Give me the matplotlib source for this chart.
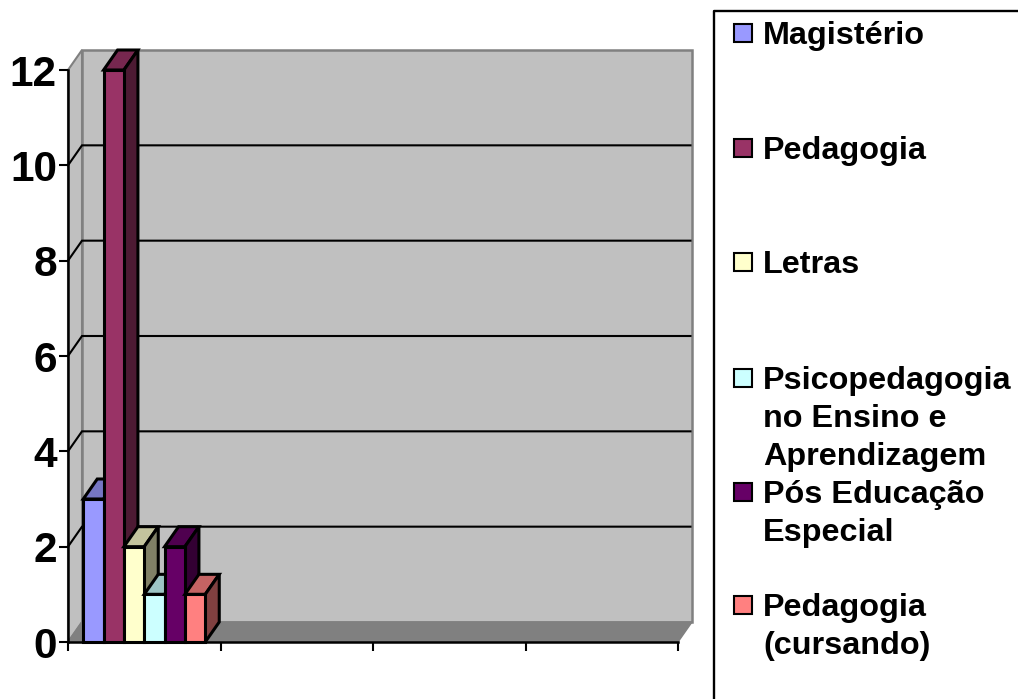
import matplotlib
matplotlib.use("Agg")
import matplotlib.pyplot as plt
from matplotlib.colors import to_rgb
from matplotlib.patches import Polygon, Rectangle

series = ["Magistério", "Pedagogia", "Letras",
          "Psicopedagogia\nno Ensino e\nAprendizagem",
          "Pós Educação\nEspecial", "Pedagogia\n(cursando)"]
values = [3, 12, 2, 1, 2, 1]
colors = ["#9999FF", "#993366", "#FFFFCC", "#CCFFFF", "#660066", "#FF8080"]
y_ticks = [0, 2, 4, 6, 8, 10, 12]
x_ticks = [0, 1, 2, 3, 4]

W, H = 1018, 699
L, R, T, B = 68, 678, 70, 642
DX_PX, DY_PX = 14, 20
plt.rcParams["font.family"] = ["Liberation Sans", "DejaVu Sans"]
fig = plt.figure(figsize=(W / 100, H / 100), dpi=100, facecolor="white")
ax = fig.add_axes([L / W, (H - B) / H, (R - L) / W, (B - T) / H])
ax.set_xlim(0, 4)
ax.set_ylim(0, 12)
ax.patch.set_visible(False)
dx = DX_PX / (R - L) * 4
dy = DY_PX / (B - T) * 12


def poly(pts, fc, ec="black", lw=2.0, z=3):
    ax.add_patch(Polygon(pts, closed=True, facecolor=fc, edgecolor=ec,
                         linewidth=lw, zorder=z, clip_on=False, joinstyle="miter"))


def shade(c, f):
    return tuple(v * f for v in to_rgb(c))


# walls and floor
poly([(0, 0), (dx, dy), (dx, 12 + dy), (0, 12)], "#C0C0C0", "#808080", 1.5, 1)
poly([(dx, dy), (4 + dx, dy), (4 + dx, 12 + dy), (dx, 12 + dy)], "#C0C0C0", "#808080", 1.8, 1)
poly([(0, 0), (dx, dy), (4 + dx, dy), (4, 0)], "#808080", "#808080", 1, 1)

# gridlines
for t in y_ticks[1:-1]:
    ax.plot([0, dx, 4 + dx - 0.01], [t, t + dy, t + dy], color="black", lw=1.5,
            zorder=2, clip_on=False, solid_joinstyle="miter")

# bars
bar_w = 0.8 / len(values)
for i, (v, c) in enumerate(zip(values, colors)):
    x0 = 0.1 + i * bar_w
    x1 = x0 + bar_w
    z = 3 + i
    poly([(x0, v), (x0 + dx, v + dy), (x1 + dx, v + dy), (x1, v)], shade(c, 0.77), lw=2.2, z=z)
    poly([(x1, 0), (x1 + dx, dy), (x1 + dx, v + dy), (x1, v)], shade(c, 0.5), lw=2.2, z=z)
    poly([(x0, 0), (x1, 0), (x1, v), (x0, v)], c, lw=2.2, z=z)

# axes
for s in ("top", "right"):
    ax.spines[s].set_visible(False)
for s in ("left", "bottom"):
    ax.spines[s].set_linewidth(1.8)
    ax.spines[s].set_zorder(10)
ax.set_yticks(y_ticks)
ax.set_yticklabels([str(t) for t in y_ticks], fontsize=30.5, fontweight="bold")
ax.set_xticks(x_ticks)
ax.set_xticklabels([])
ax.tick_params(axis="both", length=6.5, width=1.5, color="black")
ax.tick_params(axis="y", pad=1.5)

# legend panel, in pixels
lg = fig.add_axes([0, 0, 1, 1], zorder=5)
lg.set_xlim(0, W)
lg.set_ylim(H, 0)
lg.axis("off")
lg.plot([714.5, 714.5, W + 2], [H + 2, 10.5, 10.5], color="black", lw=1.7, clip_on=True)
baselines = [44, 159, 273, 389, 503, 616]
LINE = 38
for name, c, base in zip(series, colors, baselines):
    lg.add_patch(Rectangle((734, base - 20), 18, 18, facecolor=c, edgecolor="black", lw=1.5))
    for j, line in enumerate(name.split("\n")):
        lg.text(763, base + j * LINE, line, fontsize=23.3, fontweight="bold",
                color="black", ha="left", va="baseline")

fig.savefig("out.png", dpi=100, facecolor="white")
